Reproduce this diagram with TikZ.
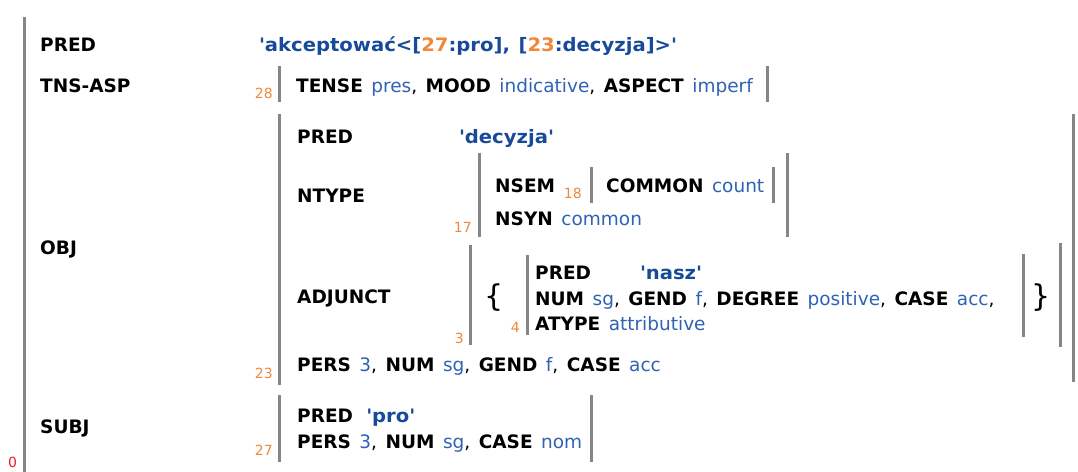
\documentclass[tikz,border=0pt]{standalone}
\usepackage{fontspec}
\setmainfont{DejaVu Sans}
\newfontfamily\fsPredFont{DejaVu Sans}[FakeStretch=1.06]
\definecolor{valblue}{HTML}{2F62B5}
\definecolor{predblue}{HTML}{174A98}
\definecolor{numorange}{HTML}{F0883A}
\definecolor{bargray}{HTML}{858585}
\definecolor{zred}{HTML}{E0202A}
\newcommand\fsK[1]{\textbf{#1}}
\newcommand\fsV[1]{\textcolor{valblue}{#1}}
\newcommand\fsN[1]{\textcolor{numorange}{#1}}
\newcommand\fsQ{\textquotesingle}
\newcommand\fsFont{\fontsize{18.5}{22}\selectfont\spaceskip 8.5pt\relax}
\begin{document}
\begin{tikzpicture}[x=1pt,y=-1pt,
  t/.style={anchor=base west, inner sep=0pt, font=\fsFont},
  pv/.style={t, text=predblue, font=\fsPredFont\fsFont\bfseries},
  num/.style={anchor=base east, inner sep=0pt, font=\fontsize{14}{16}\selectfont, text=numorange},
  brace/.style={anchor=center, inner sep=0pt, font=\fontsize{30}{34}\selectfont},
  bar/.style={draw=bargray, line width=3pt}]
\useasboundingbox (0,0) rectangle (1078,471);
% outer f-structure
\draw[bar] (24,17) -- (24,475);
\node[anchor=base west, inner sep=0pt, font=\fontsize{14}{16}\selectfont, text=zred] (n0) at (8,467) {0};
\node[t] (kpred) at (40,51) {\fsK{PRED}};
\node[pv] (vpred) at (259,51) {\fsQ akceptować<[\fsN{27}:pro], [\fsN{23}:decyzja]>\fsQ};
\node[t] (ktns) at (40,92) {\fsK{TNS-ASP}};
\node[t] (kobj) at (40,254) {\fsK{OBJ}};
\node[t] (ksubj) at (40,433) {\fsK{SUBJ}};
% TNS-ASP
\draw[bar] (279,66) -- (279,102);
\draw[bar] (767,66) -- (767,102);
\node[num] (n28) at (273,98) {28};
\node[t] (tns) at (296,92) {\fsK{TENSE} \fsV{pres}, \fsK{MOOD} \fsV{indicative}, \fsK{ASPECT} \fsV{imperf}};
% OBJ
\draw[bar] (279,114) -- (279,385);
\draw[bar] (1073,114) -- (1073,382);
\node[num] (n23) at (273,378) {23};
\node[t] (opred) at (297,143) {\fsK{PRED}};
\node[pv] (ovpred) at (459,143) {\fsQ decyzja\fsQ};
\node[t] (ontype) at (297,202) {\fsK{NTYPE}};
% NTYPE
\draw[bar] (479,153) -- (479,237);
\draw[bar] (787,153) -- (787,237);
\node[num] (n17) at (472,232) {17};
\node[t] (nsem) at (495,192) {\fsK{NSEM}};
\node[num] (n18) at (582,198) {18};
\draw[bar] (591,167) -- (591,203);
\draw[bar] (773,167) -- (773,203);
\node[t] (common) at (606,192) {\fsK{COMMON} \fsV{count}};
\node[t] (nsyn) at (495,225) {\fsK{NSYN} \fsV{common}};
% ADJUNCT
\node[t] (oadj) at (297,303) {\fsK{ADJUNCT}};
\draw[bar] (470,245) -- (470,345);
\draw[bar] (1060,243) -- (1060,347);
\node[num] (n3) at (464,343) {3};
\node[brace] (lbr) at (494,298) {\{};
\node[brace] (rbr) at (1041,298) {\}};
\draw[bar] (527,255) -- (527,335);
\draw[bar] (1023,254) -- (1023,337);
\node[num] (n4) at (520,332) {4};
\node[t] (apred) at (535,279) {\fsK{PRED}};
\node[pv] (avpred) at (640,279) {\fsQ nasz\fsQ};
\node[t] (anum) at (535,305) {\fsK{NUM} \fsV{sg}, \fsK{GEND} \fsV{f}, \fsK{DEGREE} \fsV{positive}, \fsK{CASE} \fsV{acc},};
\node[t] (atype) at (535,330) {\fsK{ATYPE} \fsV{attributive}};
\node[t] (opers) at (297,371) {\fsK{PERS} \fsV{3}, \fsK{NUM} \fsV{sg}, \fsK{GEND} \fsV{f}, \fsK{CASE} \fsV{acc}};
% SUBJ
\draw[bar] (279,395) -- (279,462);
\draw[bar] (591,395) -- (591,462);
\node[num] (n27) at (273,455) {27};
\node[t] (spred) at (297,422) {\fsK{PRED}};
\node[pv, anchor=base west] (svpred) at ([xshift=13pt]spred.base east) {\fsQ pro\fsQ};
\node[t] (spers) at (297,448) {\fsK{PERS} \fsV{3}, \fsK{NUM} \fsV{sg}, \fsK{CASE} \fsV{nom}};
\end{tikzpicture}
\end{document}
